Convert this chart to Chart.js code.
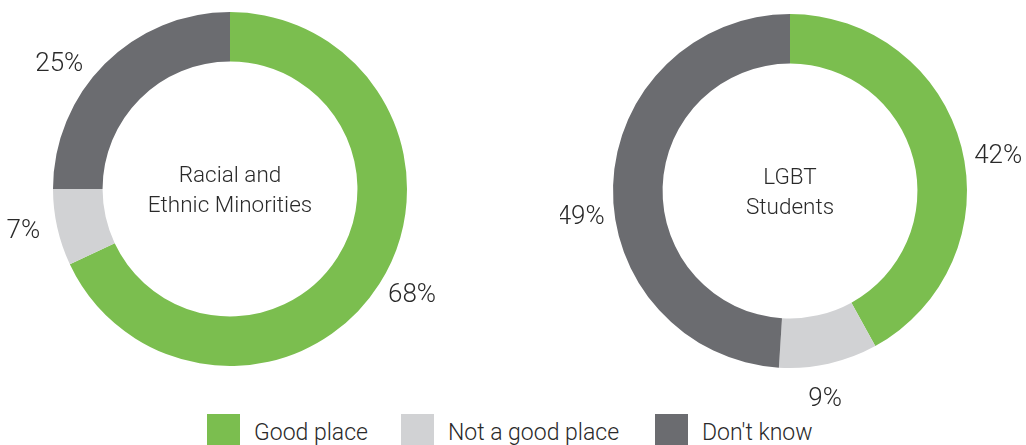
<!DOCTYPE html>
<html>
<head>
<meta charset="utf-8">
<script src="https://cdn.jsdelivr.net/npm/chart.js@4"></script>
<style>
    html, body { margin: 0; padding: 0; background: #fff; }
    body { width: 1026px; height: 445px; position: relative; overflow: hidden; font-family: Roboto, "Liberation Sans", sans-serif; font-weight: 300; color: #2a2a2a; }
    .donut { position: absolute; top: 0; }
    #leftWrap { left: 0; width: 460px; height: 410px; }
    #rightWrap { left: 560px; width: 466px; height: 410px; }
    #legend { position: absolute; left: 207px; top: 412px; display: flex; align-items: center; }
    .legendItem { display: flex; align-items: center; margin-right: 36px; }
    .legendItem:first-child { margin-right: 33px; }
    .legendBox { width: 33px; height: 33px; margin-right: 14px; }
    .legendText { font-size: 23px; line-height: 33px; padding-top: 4px; }
</style>
</head>
<body>
<div class="donut" id="leftWrap"><canvas id="leftChart"></canvas></div>
<div class="donut" id="rightWrap"><canvas id="rightChart"></canvas></div>
<div id="legend"></div>

<script>
const categories = ["Good place", "Not a good place", "Don't know"];
const colors = ["#7bbe4f", "#d1d2d4", "#6b6c70"];

const minoritiesTitle = ["Racial and", "Ethnic Minorities"];
const minoritiesValues = [68, 7, 25];

const lgbtTitle = ["LGBT", "Students"];
const lgbtValues = [42, 9, 49];

/**
 * Writes the percentage next to each slice
 * and the group name in the hole.
 * `nudge` turns a label a few degrees off the slice middle.
 */
const labelPlugin = {
    id: "donutLabels",
    afterDraw(chart, args, opts) {
        const ctx = chart.ctx;
        const meta = chart.getDatasetMeta(0);
        const values = chart.data.datasets[0].data;
        const nudge = opts.nudge || [];
        ctx.save();
        ctx.fillStyle = "#2a2a2a";
        ctx.textAlign = "center";
        ctx.textBaseline = "middle";
        ctx.font = "300 26px Roboto, 'Liberation Sans', sans-serif";
        meta.data.forEach(function(arc, i) {
            const p = arc.getProps(["x", "y", "startAngle", "endAngle", "outerRadius"], true);
            const mid = (p.startAngle + p.endAngle) / 2 + (nudge[i] || 0) * Math.PI / 180;
            const dist = p.outerRadius + 34;
            ctx.fillText(values[i] + "%", p.x + Math.cos(mid) * dist, p.y + Math.sin(mid) * dist);
        });

        const first = meta.data[0];
        ctx.font = "300 22.5px Roboto, 'Liberation Sans', sans-serif";
        const lines = opts.title;
        for (let i = 0; i < lines.length; i++) {
            ctx.fillText(lines[i], first.x, first.y - 13 + i * 30);
        }
        ctx.restore();
    }
};

/**
 * Build one doughnut chart.
 *
 * @param {String} id canvas id
 * @param {Array} values slice values
 * @param {Array} title centre text lines
 * @param {Object} padding layout padding
 * @param {Array} nudge label angle tweaks in degrees
 */
function initDonut(id, values, title, padding, nudge) {
    new Chart(document.getElementById(id), {
        type: "doughnut",
        data: {
            labels: categories,
            datasets: [{
                data: values,
                backgroundColor: colors,
                borderWidth: 0
            }]
        },
        options: {
            responsive: true,
            maintainAspectRatio: false,
            animation: false,
            cutout: "72%",
            layout: { padding: padding },
            plugins: {
                legend: { display: false },
                tooltip: { enabled: false },
                donutLabels: { title: title, nudge: nudge }
            }
        },
        plugins: [labelPlugin]
    });
}

/**
 * Shared legend under both charts.
 */
function buildLegend() {
    const legend = document.getElementById("legend");
    for (let i = 0; i < categories.length; i++) {
        const item = document.createElement("div");
        item.className = "legendItem";
        const box = document.createElement("div");
        box.className = "legendBox";
        box.style.background = colors[i];
        const text = document.createElement("span");
        text.className = "legendText";
        text.textContent = categories[i];
        item.appendChild(box);
        item.appendChild(text);
        legend.appendChild(item);
    }
}

initDonut("leftChart", minoritiesValues, minoritiesTitle, { top: 12, bottom: 44, left: 53, right: 53 }, [-2, 1, -9]);
initDonut("rightChart", lgbtValues, lgbtTitle, { top: 14, bottom: 42, left: 53, right: 59 }, [5, 3, -9]);
buildLegend();
</script>
</body>
</html>
